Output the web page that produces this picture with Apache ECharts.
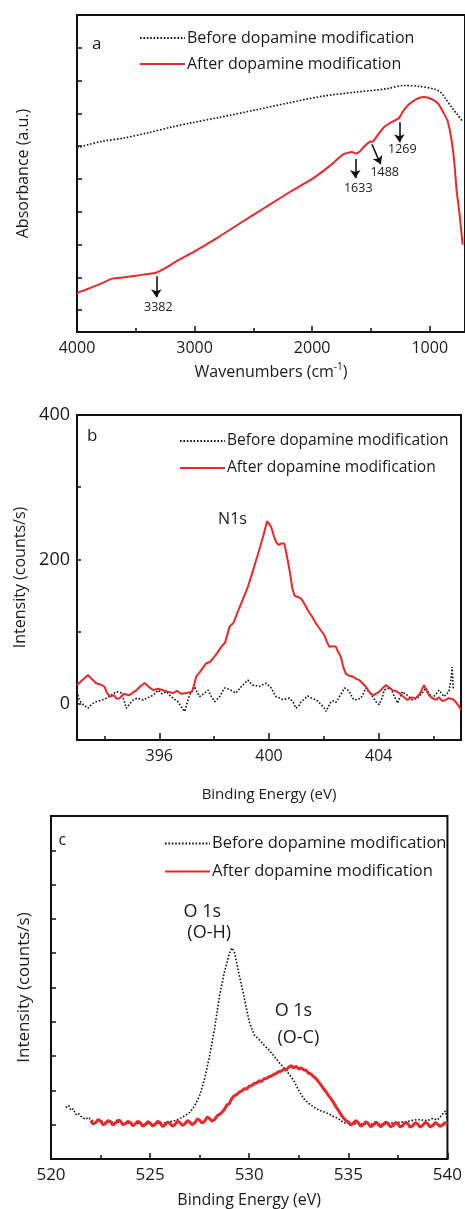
<!DOCTYPE html>
<html><head><meta charset="utf-8">
<script src="https://cdn.jsdelivr.net/npm/echarts@6/dist/echarts.min.js"></script>
<style>html,body{margin:0;padding:0;background:#fff}#c{width:465px;height:1209px}</style>
</head><body><div id="c"></div>
<script>
// ---------- Panel a: FTIR ----------
const aBefore = [[4000,4.95],[3900,5.05],[3783,5.15],[3600,5.25],[3382,5.42],[3200,5.58],[3030,5.71],[2800,5.87],[2475,6.11],[2200,6.32],[1917,6.52],[1650,6.64],[1367,6.75],[1225,6.85],[1083,6.82],[950,6.73],[900,6.62],[867,6.46],[808,6.16],[767,5.97],[720,5.75]];
const aAfter = [[4000,0.52],[3900,0.66],[3800,0.80],[3700,0.96],[3600,1.00],[3500,1.05],[3400,1.10],[3330,1.14],[3250,1.28],[3150,1.50],[3011,1.77],[2800,2.22],[2600,2.68],[2400,3.13],[2200,3.58],[2000,4.00],[1850,4.40],[1736,4.75],[1660,4.82],[1633,4.78],[1600,4.82],[1560,4.98],[1500,5.15],[1488,5.13],[1450,5.30],[1389,5.58],[1300,5.78],[1260,5.86],[1230,6.05],[1181,6.26],[1120,6.42],[1056,6.50],[1000,6.46],[931,6.31],[880,6.00],[847,5.76],[815,5.20],[792,4.55],[770,3.60],[750,3.05],[720,2.0]];
const aXTicks = [1000,2000,3000,4000];
const aXMinor = [1500,2500,3500];
const aYTicks = [0,1,2,3,4,5,6,7,8,9];
const aArrows = [[[3325,1.03],[3325,0.39]],[[1633,4.61],[1633,4.03]],[[1492,5.06],[1417,4.45]],[[1258,5.73],[1258,5.12]]];
const aLabels = [['3382',3308,0.09],['1633',1608,3.70],['1488',1383,4.21],['1269',1233,4.91]];
const aPanel = ['a',3833,8.12];

// ---------- Panel b: N1s XPS ----------
const bAfter = [[393.0,26],[393.2,33],[393.4,40],[393.55,34],[393.7,28.5],[393.85,27],[394.0,24],[394.1,15],[394.2,10],[394.35,12],[394.45,7],[394.56,8],[394.7,14],[394.9,12],[395.05,16],[395.17,19],[395.3,24],[395.47,29],[395.6,24],[395.78,19],[395.95,21],[396.14,19],[396.3,17],[396.5,15],[396.65,18],[396.8,14],[396.99,15],[397.2,17],[397.35,38],[397.5,45],[397.7,56],[397.85,58],[397.96,63],[398.1,70],[398.26,79],[398.4,85],[398.56,107],[398.7,112],[398.93,134],[399.05,145],[399.23,162],[399.38,180],[399.53,199],[399.65,214],[399.78,231],[399.93,253],[400.08,245],[400.18,232],[400.26,224],[400.35,220],[400.44,222],[400.56,222],[400.65,205],[400.75,185],[400.85,160],[400.93,150],[401.05,148],[401.17,146],[401.3,138],[401.41,130],[401.55,122],[401.72,111],[401.85,104],[402.02,95],[402.1,87],[402.2,79],[402.32,80],[402.44,79],[402.52,72],[402.62,65],[402.7,52],[402.8,42],[402.92,39],[403.05,38],[403.17,35],[403.29,33],[403.4,29],[403.53,24],[403.65,17],[403.78,12],[403.9,14],[404.02,17],[404.15,22],[404.26,26],[404.38,23],[404.5,19],[404.62,18],[404.75,15],[404.9,10],[405.05,5.5],[405.2,9],[405.35,8],[405.5,14],[405.65,26],[405.75,18],[405.84,12],[405.95,8],[406.08,5.5],[406.2,9],[406.32,4],[406.44,5.5],[406.55,8],[406.62,10],[406.72,6],[406.8,3],[406.9,-2],[407.0,-8]];
const bBefore = [[393.0,17],[393.08,6],[393.17,1],[393.3,-3],[393.4,-6],[393.55,0],[393.7,3],[393.9,5],[394.08,8],[394.25,12],[394.44,17],[394.62,15],[394.72,4],[394.8,-6],[394.92,0],[395.05,5.5],[395.2,8],[395.41,5.5],[395.6,9],[395.78,12],[395.96,19],[396.1,14],[396.26,17],[396.38,12],[396.5,8],[396.68,3],[396.8,-4],[396.93,-10.5],[397.02,2],[397.1,12],[397.29,24],[397.38,16],[397.47,10],[397.62,14],[397.78,19],[397.9,10],[398.02,3],[398.1,6],[398.2,10],[398.38,22],[398.56,20],[398.7,17],[398.8,15],[398.99,24],[399.1,28],[399.23,33],[399.32,29],[399.41,26],[399.55,25],[399.65,24],[399.8,27],[399.9,28.5],[400.08,22],[400.18,15],[400.26,10],[400.4,8],[400.5,6],[400.62,7],[400.75,8],[400.88,2],[400.99,-6],[401.1,-2],[401.17,3],[401.3,7],[401.41,11],[401.55,8],[401.72,5.5],[401.82,2],[401.9,-1],[402.0,-5],[402.08,-10.5],[402.18,-3],[402.26,3],[402.35,4],[402.44,2],[402.6,12],[402.75,22],[402.85,20],[402.93,17],[403.02,10],[403.1,5.5],[403.22,6],[403.35,8],[403.45,15],[403.53,22],[403.65,16],[403.78,10],[403.9,3],[404.02,-1],[404.12,8],[404.2,19],[404.3,21],[404.44,22],[404.55,12],[404.69,1],[404.78,10],[404.87,17],[404.95,14],[405.05,12],[405.15,8],[405.23,5.5],[405.35,7],[405.47,10],[405.6,16],[405.72,22],[405.85,14],[405.96,8],[406.08,13],[406.2,19],[406.3,14],[406.38,10],[406.48,14],[406.56,17],[406.62,30],[406.68,51],[406.72,19]];
const bXTicks = [396,400,404];
const bXMinor = [394,398,402,406];
const bYTicks = [0,100,200,300,400];
const bYLabels = [0,200,400];
const bLabels = [['N1s',398.67,255]];
const bPanel = ['b',393.55,371];

// ---------- Panel c: O1s XPS ----------
const cBefore = [[520.75,1.50],[520.9,1.56],[521.0,1.42],[521.12,1.46],[521.25,1.30],[521.38,1.33],[521.5,1.25],[521.62,1.20],[521.75,1.16],[521.88,1.21],[522.0,1.15],[522.25,1.08],[522.5,1.12],[522.75,1.06],[523.0,1.10],[523.25,1.05],[523.5,1.08],[523.75,1.03],[524.0,1.06],[524.25,1.02],[524.5,1.05],[524.75,1.01],[525.0,1.04],[525.25,1.02],[525.5,1.06],[525.75,1.05],[526.0,1.09],[526.25,1.12],[526.5,1.18],[526.75,1.26],[527.0,1.36],[527.25,1.55],[527.5,1.85],[527.75,2.35],[528.0,3.00],[528.25,3.80],[528.5,4.75],[528.75,5.45],[529.0,6.00],[529.12,6.15],[529.25,6.05],[529.5,5.35],[529.75,4.70],[530.0,4.00],[530.25,3.62],[530.5,3.48],[530.75,3.32],[531.0,3.18],[531.25,3.00],[531.5,2.82],[531.75,2.66],[532.0,2.48],[532.25,2.28],[532.5,2.00],[532.75,1.76],[533.0,1.62],[533.25,1.52],[533.5,1.43],[533.75,1.38],[534.0,1.32],[534.25,1.24],[534.5,1.18],[534.75,1.06],[535.0,1.04],[535.25,1.02],[535.5,1.04],[535.75,1.01],[536.0,1.03],[536.5,1.00],[537.0,1.04],[537.5,1.06],[538.0,1.10],[538.5,1.15],[539.0,1.12],[539.25,1.18],[539.5,1.14],[539.75,1.30],[539.9,1.40],[540.0,1.15]];
const cAfter = [[522.0,1.12],[522.12,1.02],[522.25,1.06],[522.38,1.15],[522.5,1.10],[522.62,1.00],[522.75,1.04],[522.88,1.12],[523.0,1.09],[523.12,0.99],[523.25,1.05],[523.38,1.13],[523.5,1.11],[523.62,1.00],[523.75,1.03],[523.88,1.10],[524.0,1.07],[524.12,0.97],[524.25,1.02],[524.38,1.10],[524.5,1.06],[524.62,0.96],[524.75,1.00],[524.88,1.09],[525.0,1.05],[525.12,0.96],[525.25,1.01],[525.38,1.10],[525.5,1.06],[525.62,0.95],[525.75,0.99],[525.88,1.08],[526.0,1.04],[526.12,0.96],[526.25,1.00],[526.38,1.10],[526.5,1.06],[526.62,0.98],[526.75,1.02],[526.88,1.12],[527.0,1.08],[527.12,1.00],[527.25,1.05],[527.38,1.16],[527.5,1.13],[527.62,1.05],[527.75,1.10],[527.88,1.22],[528.0,1.18],[528.12,1.10],[528.25,1.15],[528.38,1.26],[528.5,1.30],[528.62,1.36],[528.75,1.45],[528.88,1.58],[529.0,1.62],[529.12,1.76],[529.25,1.85],[529.38,1.88],[529.5,1.95],[529.62,1.98],[529.75,2.05],[529.88,2.04],[530.0,2.12],[530.12,2.14],[530.25,2.20],[530.38,2.22],[530.5,2.28],[530.62,2.26],[530.75,2.34],[530.88,2.35],[531.0,2.40],[531.12,2.42],[531.25,2.47],[531.38,2.50],[531.5,2.55],[531.62,2.56],[531.75,2.62],[531.88,2.60],[532.0,2.68],[532.12,2.72],[532.25,2.66],[532.38,2.70],[532.5,2.62],[532.62,2.66],[532.75,2.60],[532.88,2.58],[533.0,2.50],[533.12,2.48],[533.25,2.40],[533.38,2.34],[533.5,2.25],[533.62,2.16],[533.75,2.05],[533.88,1.96],[534.0,1.85],[534.12,1.76],[534.25,1.65],[534.38,1.52],[534.5,1.42],[534.62,1.30],[534.75,1.20],[534.88,1.12],[535.0,1.08],[535.12,0.99],[535.25,1.04],[535.38,1.12],[535.5,1.06],[535.62,0.96],[535.75,1.00],[535.88,1.09],[536.0,1.04],[536.12,0.94],[536.25,0.98],[536.38,1.08],[536.5,1.03],[536.62,0.94],[536.75,0.99],[536.88,1.08],[537.0,1.04],[537.12,0.94],[537.25,0.97],[537.38,1.07],[537.5,1.02],[537.62,0.93],[537.75,0.98],[537.88,1.07],[538.0,1.03],[538.12,0.93],[538.25,0.97],[538.38,1.06],[538.5,1.02],[538.62,0.93],[538.75,0.98],[538.88,1.07],[539.0,1.03],[539.12,0.94],[539.25,0.97],[539.38,1.06],[539.5,1.02],[539.62,0.95],[539.75,0.99],[539.88,1.06],[540.0,1.01]];
const cXTicks = [520,525,530,535,540];
const cXMinor = [522.5,527.5,532.5,537.5];
const cYTicks = [1,2,3,4,5,6,7,8,9];
const cLabels = [['O 1s',527.63,7.20],['(O-H)',527.98,6.59],['O 1s',532.23,4.31],['(O-C)',532.48,3.53]];
const cPanel = ['c',520.57,9.30];

const LEG_BEFORE = 'Before dopamine modification';
const LEG_AFTER = 'After dopamine modification';

const FONT = 'Open Sans';
const TXT = '#1a1a1a';
const AX = '#111';
const RED = '#e8282b';

const chart = echarts.init(document.getElementById('c'), null, {renderer:'canvas'});

function axisLineStyle(){ return {show:true, onZero:false, lineStyle:{color:AX, width:2}}; }
function mainX(grid, min, max, ticks, labels, opts){
  return Object.assign({
    type:'value', gridIndex:grid, min:min, max:max, position:'bottom',
    axisLine:axisLineStyle(), splitLine:{show:false},
    axisTick:{show:true, inside:true, length:6, customValues:ticks, lineStyle:{color:AX,width:1.5}},
    axisLabel:{show:true, customValues:labels, formatter:v=>String(v), color:TXT, fontFamily:FONT, fontSize:16, margin:8},
    nameLocation:'middle'
  }, opts||{});
}
function minorX(grid, min, max, ticks, inverse){
  return {type:'value', gridIndex:grid, min:min, max:max, inverse:!!inverse, position:'bottom',
    axisLine:{show:false, onZero:false}, splitLine:{show:false}, axisLabel:{show:false},
    axisTick:{show:true, inside:true, length:4, customValues:ticks, lineStyle:{color:AX,width:1.5}}};
}
function annot(xi, yi, items, size){
  return {type:'scatter', xAxisIndex:xi, yAxisIndex:yi, symbolSize:0, silent:true, z:5,
    itemStyle:{opacity:1},
    data: items.map(d=>({name:d[0], value:[d[1],d[2]]})),
    label:{show:true, position:'inside', formatter:p=>p.name, color:TXT, opacity:1, fontFamily:FONT, fontSize:size}};
}
function legendFor(top, left, names, gap, size){
  return {data:names, orient:'vertical', left:left, top:top, itemWidth:45, itemHeight:14, itemGap:gap,
    selectedMode:false, formatter:n=>n.replace(/ \[.\]$/,''),
    itemStyle:{color:'rgba(0,0,0,0)', borderColor:'rgba(0,0,0,0)', borderWidth:0},
    textStyle:{color:TXT, fontFamily:FONT, fontSize:size, padding:[0,0,0,-3]}};
}

const option = {
  backgroundColor:'#fff',
  animation:false,
  grid:[
    {left:77, top:15, width:396, height:317, show:true, borderColor:AX, borderWidth:2},
    {left:77, top:415, width:384, height:325, show:true, borderColor:AX, borderWidth:2},
    {left:51, top:816, width:399, height:343, show:true, borderColor:AX, borderWidth:2}
  ],
  legend:[
    legendFor(25, 134, [LEG_BEFORE+' [a]', LEG_AFTER+' [a]'], 10, 16),
    legendFor(428, 174, [LEG_BEFORE+' [b]', LEG_AFTER+' [b]'], 11, 15.6),
    legendFor(830, 159, [LEG_BEFORE+' [c]', LEG_AFTER+' [c]'], 11, 16.5)
  ],
  xAxis:[
    mainX(0, 700, 4000, aXTicks, aXTicks, {inverse:true, name:'{t|Wavenumbers (cm}{s|-1}{t|)}', nameGap:30,
      nameTextStyle:{rich:{t:{fontFamily:FONT,fontSize:16,color:TXT}, s:{fontFamily:FONT,fontSize:10,color:TXT,verticalAlign:'top',padding:[0,0,10,0]}}}}),
    minorX(0, 700, 4000, aXMinor, true),
    mainX(1, 393, 407, bXTicks, bXTicks, {name:'Binding Energy (eV)', nameGap:47, axisTick:{show:true,inside:true,length:7,customValues:bXTicks,lineStyle:{color:AX,width:1.5}},
      nameTextStyle:{fontFamily:FONT,fontSize:15,color:TXT}}),
    minorX(1, 393, 407, bXMinor),
    mainX(2, 520, 540, cXTicks, cXTicks, {name:'Binding Energy (eV)', nameGap:33, axisLabel:{show:true, customValues:cXTicks, formatter:v=>String(v), color:TXT, fontFamily:FONT, fontSize:17, margin:8},
      nameTextStyle:{fontFamily:FONT,fontSize:16,color:TXT}}),
    minorX(2, 520, 540, cXMinor)
  ],
  yAxis:[
    {type:'value', gridIndex:0, min:-0.667, max:9, axisLine:axisLineStyle(), splitLine:{show:false},
      axisTick:{show:true, inside:true, length:5, customValues:aYTicks, lineStyle:{color:AX,width:1.5}},
      axisLabel:{show:false}, name:'Absorbance (a.u.)', nameLocation:'middle', nameGap:46,
      nameTextStyle:{fontFamily:FONT,fontSize:16,color:TXT}},
    {type:'value', gridIndex:1, min:-50, max:400, axisLine:axisLineStyle(), splitLine:{show:false},
      axisTick:{show:true, inside:true, length:4, customValues:bYTicks, lineStyle:{color:AX,width:1.5}},
      axisLabel:{show:true, customValues:bYLabels, color:TXT, fontFamily:FONT, fontSize:18, margin:7},
      name:'Intensity (counts/s)', nameLocation:'middle', nameGap:46,
      nameTextStyle:{fontFamily:FONT,fontSize:16,color:TXT}},
    {type:'value', gridIndex:2, min:0, max:10, axisLine:axisLineStyle(), splitLine:{show:false},
      axisTick:{show:true, inside:true, length:5, customValues:cYTicks, lineStyle:{color:AX,width:1.5}},
      axisLabel:{show:false}, name:'Intensity (counts/s)', nameLocation:'middle', nameGap:18,
      nameTextStyle:{fontFamily:FONT,fontSize:17,color:TXT}}
  ],
  series:[
    {name:LEG_BEFORE+' [a]', type:'line', xAxisIndex:0, yAxisIndex:0, data:aBefore, symbol:'none', smooth:0.3,
      lineStyle:{color:'#111', width:1.6, type:[1.6,1.8]}, itemStyle:{color:'#111'}},
    {name:LEG_AFTER+' [a]', type:'line', xAxisIndex:0, yAxisIndex:0, data:aAfter, symbol:'none', smooth:0.2,
      lineStyle:{color:RED, width:2}, itemStyle:{color:RED}},
    Object.assign(annot(0,0,aLabels,12.5), {markLine:{silent:true, symbol:['none','arrow'], symbolSize:8, precision:4, label:{show:false},
      lineStyle:{color:'#111', width:1.6, type:'solid'}, itemStyle:{color:'#111'},
      data:aArrows.map(a=>[{coord:a[0], symbol:'none'},{coord:a[1], symbol:'arrow', symbolSize:8}])}}),
    annot(0,0,[aPanel],17),
    {name:LEG_BEFORE+' [b]', type:'line', xAxisIndex:2, yAxisIndex:1, data:bBefore, symbol:'none',
      lineStyle:{color:'#111', width:1.6, type:[1.6,1.8]}, itemStyle:{color:'#111'}},
    {name:LEG_AFTER+' [b]', type:'line', xAxisIndex:2, yAxisIndex:1, data:bAfter, symbol:'none',
      lineStyle:{color:RED, width:2}, itemStyle:{color:RED}},
    annot(2,1,bLabels,16),
    annot(2,1,[bPanel],17),
    {name:LEG_BEFORE+' [c]', type:'line', xAxisIndex:4, yAxisIndex:2, data:cBefore, symbol:'none',
      lineStyle:{color:'#111', width:1.6, type:[1.6,1.8]}, itemStyle:{color:'#111'}},
    {name:LEG_AFTER+' [c]', type:'line', xAxisIndex:4, yAxisIndex:2, data:cAfter, symbol:'none',
      lineStyle:{color:RED, width:3}, itemStyle:{color:RED}},
    annot(4,2,cLabels,18),
    annot(4,2,[cPanel],16)
  ]
};
chart.setOption(option);
</script>
</body></html>
